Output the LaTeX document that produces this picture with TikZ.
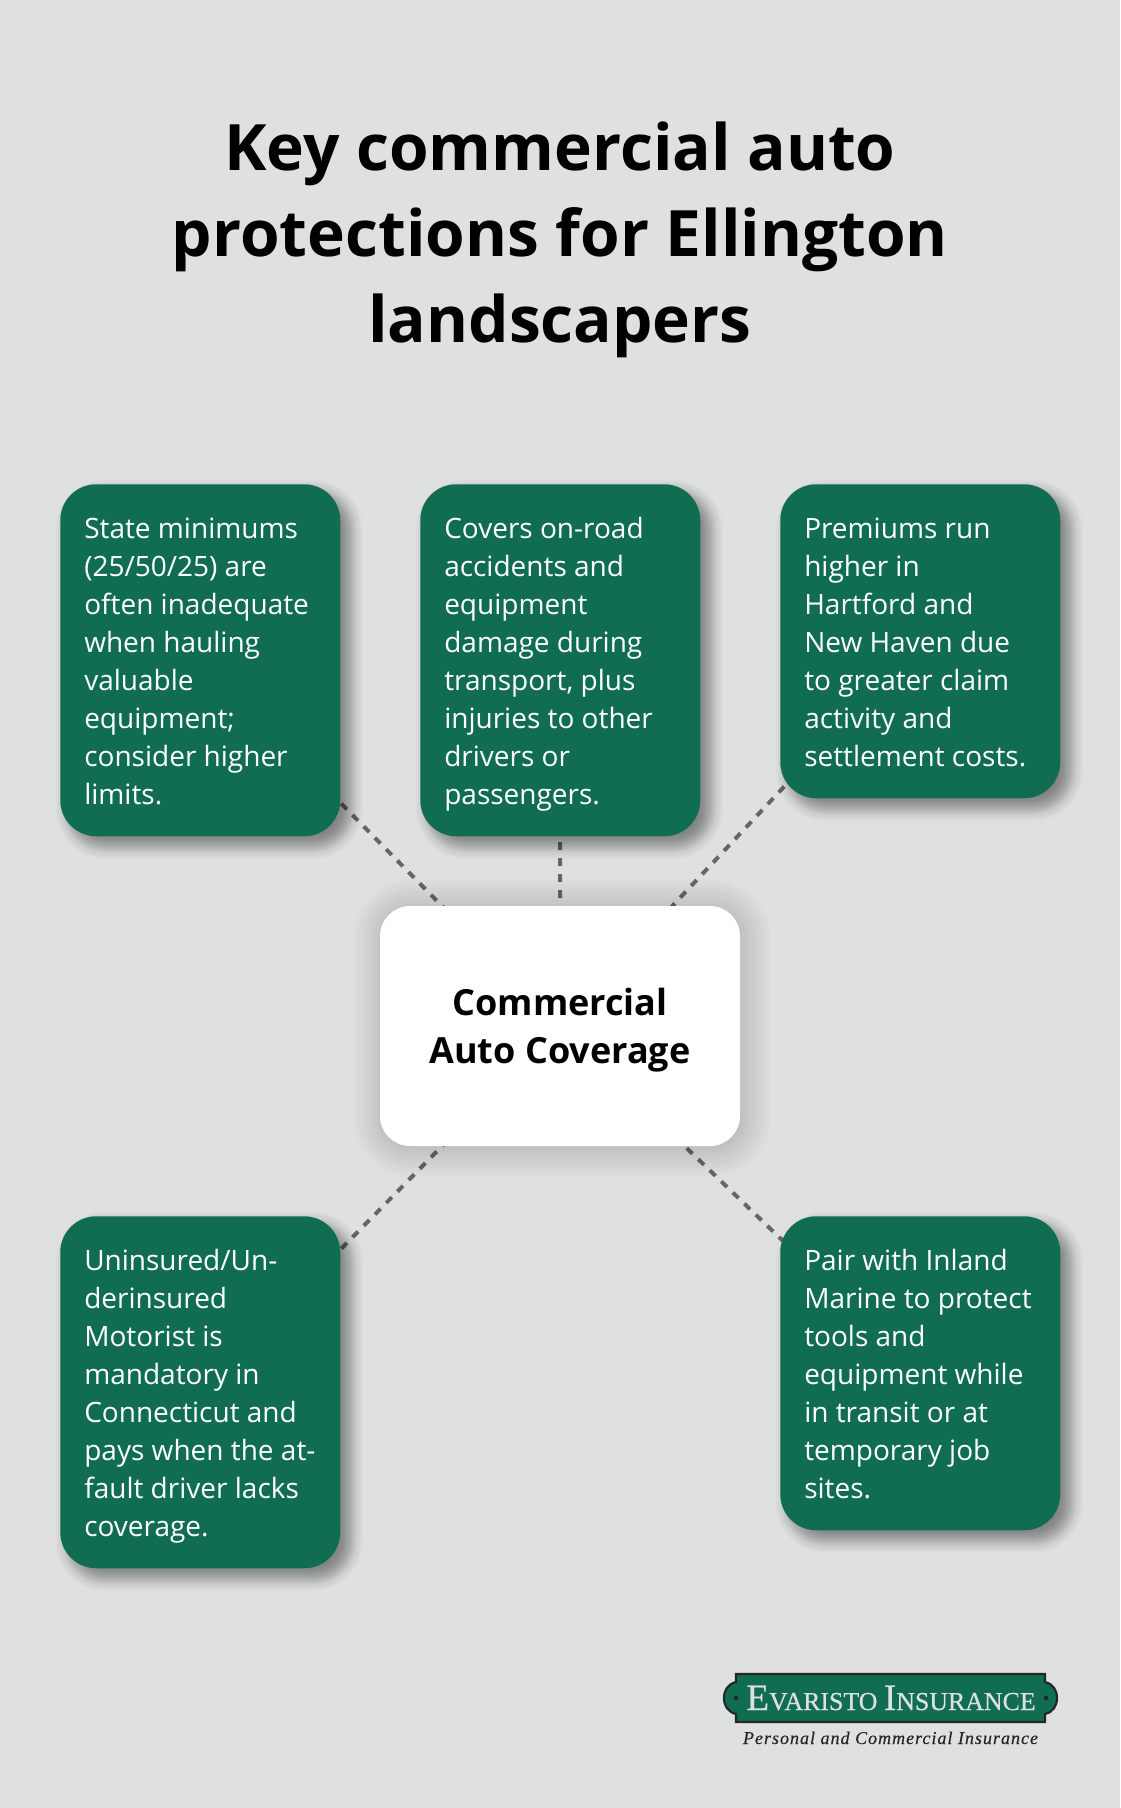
\documentclass[tikz,border=0pt]{standalone}
\usepackage{fontspec}
\setmainfont{Open Sans}
\newfontfamily\logofont[FakeBold=0.4]{Liberation Serif}
\newfontfamily\logotag[LetterSpace=5.6,ItalicFeatures={FakeBold=0.3}]{Liberation Serif}
\usetikzlibrary{backgrounds,calc}
\definecolor{pagegrey}{RGB}{223,225,224}
\definecolor{policygreen}{RGB}{17,109,81}
\definecolor{linkgrey}{RGB}{102,102,102}
\definecolor{bannerink}{RGB}{34,38,36}
\newcommand{\linestrut}{\rule[-0.213\baselineskip]{0pt}{\baselineskip}}
% soft shadow of a named box: stacked see-through rounded rectangles
% #1 node, #2 corner radius, #3 offset, #4 opacity of one layer, #5 layer sizes
\newcommand{\softshadow}[5]{%
  \foreach \grow in {#5}
    \fill [black,fill opacity=#4,rounded corners={max(#2+\grow,2)*0.75pt}]
      ($(#1.north west)+(#3-\grow,#3-\grow)$) rectangle ($(#1.south east)+(#3+\grow,#3+\grow)$);
}
\tikzset{
  notebox/.style={rectangle,rounded corners=27pt,fill=policygreen,text=white,anchor=north west,
    text width=174pt,inner xsep=18pt,inner ysep=18pt,align=flush left,font=\fontsize{21}{28.5}\selectfont,
    execute at begin node=\linestrut,execute at end node=\linestrut},
  hubbox/.style={rectangle,rounded corners=22.5pt,fill=white,text=black,text width=234pt,minimum height=180pt,
    inner xsep=18pt,inner ysep=0pt,align=flush center,font=\fontsize{27}{36}\selectfont\bfseries,
    execute at begin node=\linestrut,execute at end node=\linestrut},
  linkline/.style={draw=linkgrey,line width=3pt,dash pattern=on 6pt off 6pt},
}
\begin{document}
\begin{tikzpicture}[x=0.75pt,y=0.75pt,yscale=-1,xscale=1]
%Title
\node (title) [anchor=north,inner sep=0pt,text width=800pt,align=flush center,font=\fontsize{48}{64.5}\selectfont\bfseries,
  execute at begin node=\linestrut,execute at end node=\linestrut] at (560,103)
  {Key commercial auto\\protections for Ellington\\landscapers};

%Rounded boxes
\node (hub) [hubbox] at (560,1026) {Commercial\\Auto Coverage};
\node (limits) [notebox] at (60,484) {State minimums\\(25/50/25) are\\often inadequate\\when hauling\\valuable\\equipment;\\consider higher\\limits.};
\node (covers) [notebox] at (420,484) {Covers on-road\\accidents and\\equipment\\damage during\\transport, plus\\injuries to other\\drivers or\\passengers.};
\node (premiums) [notebox] at (780,484) {Premiums run\\higher in\\Hartford and\\New Haven due\\to greater claim\\activity and\\settlement costs.};
\node (motorist) [notebox] at (60,1216) {Uninsured/Un-\\derinsured\\Motorist is\\mandatory in\\Connecticut and\\pays when the at-\\fault driver lacks\\coverage.};
\node (marine) [notebox] at (780,1216) {Pair with Inland\\Marine to protect\\tools and\\equipment while\\in transit or at\\temporary job\\sites.};

%Page, dashed links and shadows, under the boxes
\begin{scope}[on background layer]
\fill [pagegrey] (0,0) rectangle (1120,1808);
\foreach \target in {limits,covers,premiums,motorist,marine}
  \draw [linkline] (hub.center) -- (\target.center);
\softshadow{hub}{30}{2}{0.015}{-28,-24,...,28}
\foreach \target in {limits,covers,premiums,motorist,marine}
  {\softshadow{\target}{36}{9}{0.024}{-13,-11,-9,-7,-6,-5,-4,-3,-2,-1,0,1,2,3,4,5,6,7,9,11,13}}
\end{scope}

%Shape: Banner
\draw [fill=policygreen,draw=bannerink,line width=1.6pt] (736,1674) -- (1045,1674) -- (1045,1682)
  .. controls (1053,1684) and (1057,1690) .. (1057,1698) .. controls (1057,1706) and (1053,1712) .. (1045,1714)
  -- (1045,1722) -- (736,1722) -- (736,1714)
  .. controls (728,1712) and (724,1706) .. (724,1698) .. controls (724,1690) and (728,1684) .. (736,1682) -- cycle ;
\fill [bannerink] (736,1698) circle [radius=2.2] (1046,1698) circle [radius=2.2];
\node (brand) [anchor=base,inner sep=0pt,text=pagegrey] at (891,1710)
  {\logofont\fontsize{28}{28}\selectfont E\fontsize{19.4}{28}\selectfont VARISTO {\fontsize{28}{28}\selectfont I}NSURANCE};
\node (tagline) [anchor=base,inner sep=0pt,text=bannerink] at (890.5,1744)
  {\logotag\itshape\fontsize{13.5}{16}\selectfont Personal and Commercial Insurance};
\end{tikzpicture}
\end{document}
